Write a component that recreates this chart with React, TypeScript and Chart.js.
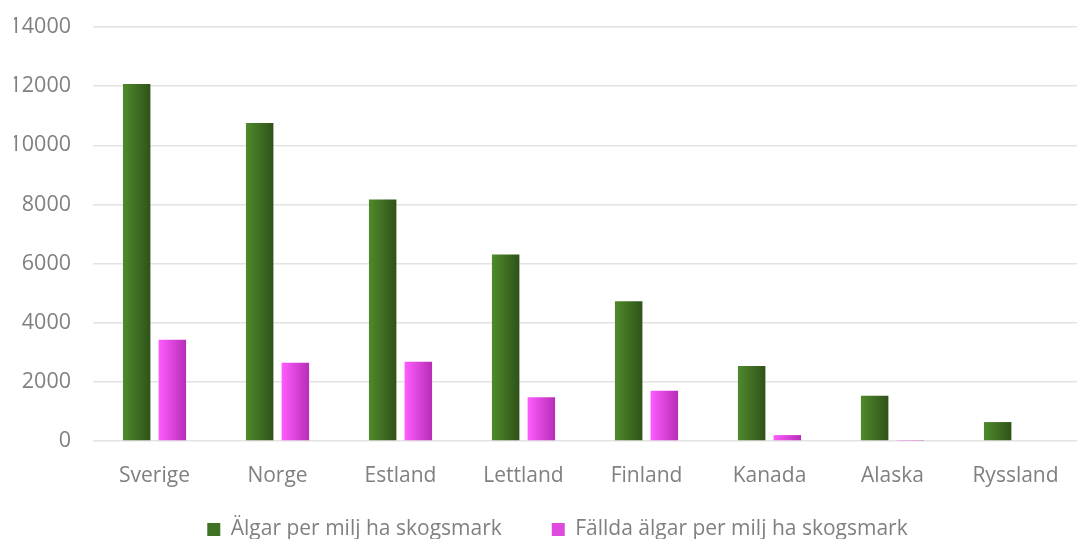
import React, { useEffect, useRef } from "react";
import { Chart, registerables } from "chart.js";

Chart.register(...registerables);

const categories = ["Sverige", "Norge", "Estland", "Lettland", "Finland", "Kanada", "Alaska", "Ryssland"];
const seriesNames = ["Älgar per milj ha skogsmark", "Fällda älgar per milj ha skogsmark"];
const algar = [12070, 10750, 8170, 6310, 4730, 2540, 1530, 640];
const fallda = [3420, 2650, 2680, 1480, 1700, 200, 15, 25];
const yTicks = [0, 2000, 4000, 6000, 8000, 10000, 12000, 14000];

const SOLID = ["#3f7222", "#de4ade"];
const GRADIENTS: [string, string][] = [
  ["#4f8a2c", "#2f5218"],
  ["#ff5cff", "#b72db7"],
];
const TEXT = "#808080";
const LEGEND_ITEM_GAP = 50;
const LEGEND_HEIGHT = 51;
const LEGEND_TOP_PAD = 31;
const LEGEND_SHIFT_X = 12;
const Y_AXIS_WIDTH = 79;
const X_AXIS_HEIGHT = 47;

const legendGapPlugin = {
  id: "legendGap",
  afterInit(chart: any) {
    const lg = chart.legend;
    if (!lg || lg.__patched) return;
    lg.__patched = true;
    const origFit = lg.fit.bind(lg);
    lg.fit = function () {
      origFit();
      this.height = LEGEND_HEIGHT;
    };
    const origDraw = lg.draw.bind(lg);
    lg.draw = function (...args: any[]) {
      const t = this.top, l = this.left, r = this.right;
      this.top = t - (LEGEND_ITEM_GAP - LEGEND_TOP_PAD);
      this.left = l + LEGEND_SHIFT_X;
      this.right = r + LEGEND_SHIFT_X;
      origDraw(...args);
      this.top = t;
      this.left = l;
      this.right = r;
    };
  },
};

const gradientPlugin = {
  id: "barGradient",
  beforeDatasetsDraw(chart: any) {
    const ctx = chart.ctx;
    chart.data.datasets.forEach((_ds: any, di: number) => {
      const meta = chart.getDatasetMeta(di);
      const [c0, c1] = GRADIENTS[di];
      meta.data.forEach((el: any) => {
        const { x, width } = el.getProps(["x", "width"], true);
        if (!isFinite(x) || !isFinite(width)) return;
        const g = ctx.createLinearGradient(x - width / 2, 0, x + width / 2, 0);
        g.addColorStop(0, c0);
        g.addColorStop(1, c1);
        el.options = { ...el.options, backgroundColor: g };
      });
    });
  },
};

export default function App() {
  const ref = useRef<HTMLCanvasElement | null>(null);

  useEffect(() => {
    if (!ref.current) return;
    Chart.defaults.font.family = "'Open Sans', 'Noto Sans', sans-serif";
    const chart = new Chart(ref.current, {
      type: "bar",
      data: {
        labels: categories,
        datasets: [
          { label: seriesNames[0], data: algar, backgroundColor: SOLID[0], borderWidth: 0 },
          { label: seriesNames[1], data: fallda, backgroundColor: SOLID[1], borderWidth: 0 },
        ],
      },
      options: {
        animation: false,
        responsive: false,
        maintainAspectRatio: false,
        categoryPercentage: 0.58,
        barPercentage: 0.77,
        layout: { padding: { left: 14, right: 0, top: 27, bottom: 0 } },
        plugins: {
          legend: {
            position: "bottom",
            labels: {
              color: TEXT,
              font: { size: 21 },
              boxWidth: 13,
              boxHeight: 13,
              padding: LEGEND_ITEM_GAP,
            },
          },
          tooltip: { enabled: false },
          title: { display: false },
        },
        scales: {
          x: {
            grid: { display: false, drawTicks: false },
            border: { display: false },
            ticks: { color: TEXT, font: { size: 21 }, padding: 22, maxRotation: 0 },
            afterFit: (scale: any) => {
              scale.height = X_AXIS_HEIGHT;
              scale.paddingLeft = 0;
              scale.paddingRight = 0;
            },
          },
          y: {
            min: 0,
            max: 14000,
            afterBuildTicks: (scale: any) => {
              scale.ticks = yTicks.map((v) => ({ value: v }));
            },
            grid: { color: "#e3e3e3", lineWidth: 1.5, drawTicks: false },
            border: { display: false },
            ticks: {
              color: TEXT,
              font: { size: 21.5 },
              padding: 22,
              callback: (v: any) => String(v),
            },
            afterFit: (scale: any) => {
              scale.width = Y_AXIS_WIDTH;
              scale.paddingTop = 0;
              scale.paddingBottom = 0;
            },
          },
        },
      },
      plugins: [legendGapPlugin, gradientPlugin],
    } as any);
    return () => chart.destroy();
  }, []);

  return (
    <div style={{ position: "fixed", left: 0, top: 0, width: 1077, height: 539, background: "#fff" }}>
      <canvas ref={ref} width={1077} height={539} />
    </div>
  );
}
